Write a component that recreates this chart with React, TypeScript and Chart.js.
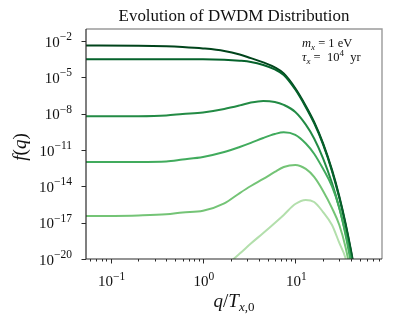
import React, { useEffect, useRef } from 'react';
import { Chart, registerables } from 'chart.js';

Chart.register(...registerables);

// momentum grid q / T_{x,0}
const qValues = [0.054, 0.2, 0.4, 0.6, 1.0, 1.7, 2.5, 3.3, 4.5, 6, 7.5, 10, 13, 16, 20, 25, 30, 35, 40, 45, 50];

// f(q) at successive times (lightest → darkest)
const curveF = [null, null, null, null, 1.0e-22, 2.2e-21, 2.8e-20, 1.9e-19, 1.4e-18, 9.5e-18, 4.4e-17, 3.5e-16, 7.6e-16, 5.1e-16, 7.6e-17, 6.5e-18, 2.1e-19, 1.2e-20, 1e-22, 1e-25, 1e-28];
const curveE = [3.5e-17, 4.0e-17, 4.9e-17, 6.9e-17, 9.5e-17, 3.9e-16, 2.8e-15, 1.07e-14, 4.1e-14, 1.55e-13, 4.0e-13, 5.9e-13, 2.75e-13, 6.0e-14, 4.2e-15, 1.6e-16, 6.5e-18, 9.8e-20, 5e-22, 3.2e-25, 1e-28];
const curveD = [1.05e-12, 1.05e-12, 1.15e-12, 1.66e-12, 2.7e-12, 6.9e-12, 1.8e-11, 3.9e-11, 1.0e-10, 2.1e-10, 2.95e-10, 1.8e-10, 3.5e-11, 5.0e-12, 2.8e-13, 1.0e-14, 1.6e-16, 1.0e-18, 5.0e-21, 2.5e-23, 1e-25];
const curveC = [6.2e-9, 6.3e-9, 7.2e-9, 9.5e-9, 1.29e-8, 2.5e-8, 4.9e-8, 8.5e-8, 1.15e-7, 9.5e-8, 5.4e-8, 1.4e-8, 1.26e-9, 9.1e-11, 2.1e-12, 1.86e-14, 1.66e-16, 1.48e-18, 1.3e-20, 1.2e-22, 1e-24];
const curveB = [3.16e-4, 3.16e-4, 3.16e-4, 3.16e-4, 3.16e-4, 2.9e-4, 2.4e-4, 1.9e-4, 1.07e-4, 4.6e-5, 1.6e-5, 1.0e-6, 3.5e-8, 1.66e-9, 2.9e-11, 1.8e-13, 1.15e-15, 7.2e-18, 4.6e-20, 2.9e-22, 2e-24];
const curveA = [4.3e-3, 4.2e-3, 3.8e-3, 3.3e-3, 2.5e-3, 1.55e-3, 7.9e-4, 3.9e-4, 1.74e-4, 6.8e-5, 2.1e-5, 1.26e-6, 4.4e-8, 2.1e-9, 3.6e-11, 2.3e-13, 1.45e-15, 9.1e-18, 5.8e-20, 3.6e-22, 2.5e-24];

const seriesList = [curveF, curveE, curveD, curveC, curveB, curveA];
const seriesColors = ['#b3dfac', '#74c476', '#41ab5d', '#238b45', '#05622b', '#00441b'];

const yTickExps = [-2, -5, -8, -11, -14, -17, -20];
const xTickExps = [-1, 0, 1];

const titleText = 'Evolution of DWDM Distribution';

const SERIF = '"Liberation Serif", "DejaVu Serif", serif';
const TEXT = '#111';

type Seg = { t: string; font: string; dy?: number };

function segWidth(ctx: CanvasRenderingContext2D, segs: Seg[]) {
  let w = 0;
  for (const s of segs) {
    ctx.font = s.font;
    w += ctx.measureText(s.t).width;
  }
  return w;
}

function drawSegs(ctx: CanvasRenderingContext2D, segs: Seg[], x: number, y: number, align: 'left' | 'center' | 'right') {
  const total = segWidth(ctx, segs);
  let cx = align === 'left' ? x : align === 'center' ? x - total / 2 : x - total;
  ctx.textAlign = 'left';
  ctx.textBaseline = 'alphabetic';
  for (const s of segs) {
    ctx.font = s.font;
    ctx.fillText(s.t, cx, y + (s.dy || 0));
    cx += ctx.measureText(s.t).width;
  }
}

function powSegs(exp: number): Seg[] {
  const e = exp < 0 ? '\u2212' + Math.abs(exp) : String(exp);
  return [
    { t: '10', font: `15px ${SERIF}` },
    { t: e, font: `11.5px ${SERIF}`, dy: -6.5 },
  ];
}

const decorPlugin = {
  id: 'decor',
  afterDraw(chart: any) {
    const ctx: CanvasRenderingContext2D = chart.ctx;
    const a = chart.chartArea;
    const xs = chart.scales.x;
    const ys = chart.scales.y;
    ctx.save();

    // spines
    ctx.lineWidth = 1.4;
    ctx.strokeStyle = '#9a9a9a';
    ctx.beginPath();
    ctx.moveTo(a.left, a.top);
    ctx.lineTo(a.right, a.top);
    ctx.lineTo(a.right, a.bottom);
    ctx.stroke();
    ctx.lineWidth = 1.2;
    ctx.strokeStyle = '#2b2b2b';
    ctx.beginPath();
    ctx.moveTo(a.left, a.top);
    ctx.lineTo(a.left, a.bottom);
    ctx.lineTo(a.right, a.bottom);
    ctx.stroke();

    // ticks
    ctx.lineWidth = 1;
    ctx.strokeStyle = '#2b2b2b';
    ctx.beginPath();
    for (const e of yTickExps) {
      const py = Math.round(ys.getPixelForValue(Math.pow(10, e))) + 0.5;
      ctx.moveTo(a.left, py);
      ctx.lineTo(a.left - 4.5, py);
    }
    const xmin = xs.min, xmax = xs.max;
    for (let n = -3; n <= 2; n++) {
      for (let k = 1; k <= 9; k++) {
        const v = k * Math.pow(10, n);
        if (v < xmin || v > xmax) continue;
        const px = Math.round(xs.getPixelForValue(v)) + 0.5;
        const len = k === 1 ? 4.5 : 2.5;
        ctx.moveTo(px, a.bottom);
        ctx.lineTo(px, a.bottom + len);
      }
    }
    ctx.stroke();

    ctx.fillStyle = TEXT;
    // y tick labels
    for (const e of yTickExps) {
      const py = ys.getPixelForValue(Math.pow(10, e));
      drawSegs(ctx, powSegs(e), a.left - 14, py + 5.5, 'right');
    }
    // x tick labels
    for (const e of xTickExps) {
      const px = xs.getPixelForValue(Math.pow(10, e));
      drawSegs(ctx, powSegs(e), px + 1, a.bottom + 27, 'center');
    }

    // title
    ctx.font = `15px ${SERIF}`;
    const tw = ctx.measureText(titleText).width;
    const tsize = Math.max(13, Math.min(17, (15 * 231) / tw));
    ctx.font = `${tsize}px ${SERIF}`;
    ctx.textAlign = 'center';
    ctx.textBaseline = 'alphabetic';
    ctx.fillText(titleText, (a.left + a.right) / 2, 21);

    // x axis label  q/T_{x,0}
    const itL = `italic 19px ${SERIF}`;
    const rmL = `19px ${SERIF}`;
    drawSegs(
      ctx,
      [
        { t: 'q', font: itL },
        { t: '/', font: rmL },
        { t: 'T', font: itL },
        { t: 'x', font: `italic 13px ${SERIF}`, dy: 3.5 },
        { t: ',0', font: `13px ${SERIF}`, dy: 3.5 },
      ],
      (a.left + a.right) / 2,
      307,
      'center'
    );

    // y axis label f(q)
    ctx.save();
    ctx.translate(26, 147);
    ctx.rotate(-Math.PI / 2);
    drawSegs(
      ctx,
      [
        { t: 'f', font: itL },
        { t: '(', font: rmL },
        { t: 'q', font: itL },
        { t: ')', font: rmL },
      ],
      0,
      0,
      'center'
    );
    ctx.restore();

    // annotation
    const it12 = `italic 12.5px ${SERIF}`;
    const rm12 = `12.5px ${SERIF}`;
    const sub = `italic 9px ${SERIF}`;
    drawSegs(
      ctx,
      [
        { t: 'm', font: it12 },
        { t: 'x', font: sub, dy: 2.5 },
        { t: ' = 1 eV', font: rm12 },
      ],
      302,
      47,
      'left'
    );
    drawSegs(
      ctx,
      [
        { t: '\u03c4', font: it12 },
        { t: 'x', font: sub, dy: 2.5 },
        { t: ' =  10', font: rm12 },
        { t: '4', font: `9px ${SERIF}`, dy: -5 },
        { t: '  yr', font: rm12 },
      ],
      302,
      61,
      'left'
    );

    ctx.restore();
  },
};

export default function App() {
  const ref = useRef<HTMLCanvasElement>(null);
  useEffect(() => {
    const canvas = ref.current!;
    const chart = new Chart(canvas, {
      type: 'line',
      data: {
        datasets: seriesList.map((s, i) => ({
          data: qValues.map((q, j) => ({ x: q, y: s[j] })),
          borderColor: seriesColors[i],
          backgroundColor: seriesColors[i],
          borderWidth: 2,
          pointRadius: 0,
          fill: false,
          cubicInterpolationMode: 'monotone' as const,
        })),
      },
      options: {
        animation: false,
        responsive: false,
        devicePixelRatio: 1,
        layout: { padding: { top: 29, right: 14, left: 0, bottom: 0 } },
        plugins: {
          legend: { display: false },
          tooltip: { enabled: false },
          title: { display: false },
        },
        scales: {
          x: {
            type: 'logarithmic',
            min: 0.054,
            max: 87,
            grid: { display: false },
            border: { display: false },
            ticks: { display: false },
            afterFit: (s: any) => {
              s.height = 65;
            },
          },
          y: {
            type: 'logarithmic',
            min: 1e-20,
            max: 1e-1,
            grid: { display: false },
            border: { display: false },
            ticks: { display: false },
            afterFit: (s: any) => {
              s.width = 86;
            },
          },
        },
      } as any,
      plugins: [decorPlugin],
    });
    return () => chart.destroy();
  }, []);
  return (
    <div style={{ position: 'absolute', left: 0, top: 0, width: 396, height: 324, background: '#fff' }}>
      <canvas ref={ref} width={396} height={324} style={{ width: 396, height: 324, display: 'block' }} />
    </div>
  );
}
